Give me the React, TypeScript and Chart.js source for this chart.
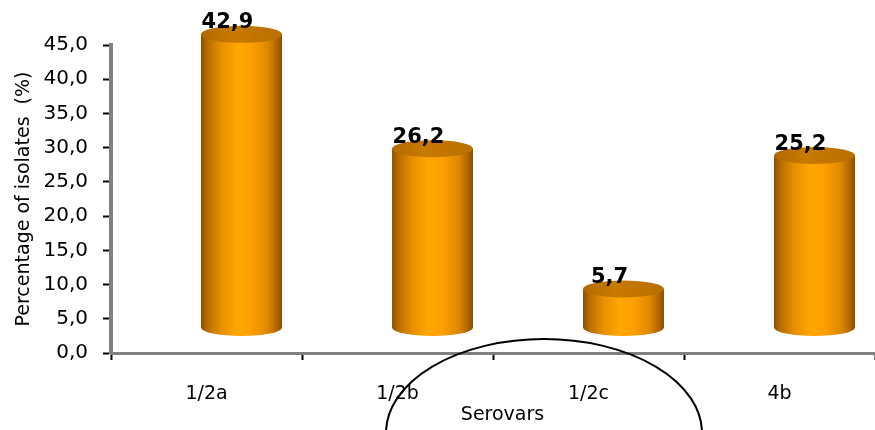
import React, { useEffect, useRef } from 'react';
import { Chart, registerables } from 'chart.js';

Chart.register(...registerables);

const categories: string[] = ['1/2a', '1/2b', '1/2c', '4b'];
const percentages: number[] = [42.9, 26.2, 5.7, 25.2];
const yMin = 0;
const yMax = 45;
const yStep = 5;
const xTitle = '\u2003Serovars';
const yTitle = 'Percentage of isolates  (%)';

const FONT = '"DejaVu Sans", sans-serif';
const DX = 35;
const DY = -25;
const RY = 8.5;

const fmt = (v: number) => v.toFixed(1).replace('.', ',');

const cylinderPlugin = {
  id: 'cylinders',
  afterDatasetsDraw(chart: any) {
    const ctx: CanvasRenderingContext2D = chart.ctx;
    const meta = chart.getDatasetMeta(0);
    meta.data.forEach((bar: any, i: number) => {
      const { x, y, base, width } = bar.getProps(['x', 'y', 'base', 'width'], true);
      const cx = x + DX;
      const top = y + DY;
      const bot = base + DY;
      const rx = width / 2;
      const left = cx - rx;
      ctx.save();
      const g = ctx.createLinearGradient(left, 0, left + width, 0);
      g.addColorStop(0, '#8a5000');
      g.addColorStop(0.08, '#b86d00');
      g.addColorStop(0.25, '#e89000');
      g.addColorStop(0.45, '#ffa600');
      g.addColorStop(0.62, '#ffa000');
      g.addColorStop(0.82, '#e08800');
      g.addColorStop(0.93, '#b26800');
      g.addColorStop(1, '#8a5000');
      ctx.beginPath();
      ctx.moveTo(left, top);
      ctx.lineTo(left, bot);
      ctx.ellipse(cx, bot, rx, RY, 0, Math.PI, 0, true);
      ctx.lineTo(left + width, top);
      ctx.closePath();
      ctx.fillStyle = g;
      ctx.fill();
      const tg = ctx.createLinearGradient(left, 0, left + width, 0);
      tg.addColorStop(0, '#b26a00');
      tg.addColorStop(0.4, '#c87a00');
      tg.addColorStop(1, '#b86f00');
      ctx.beginPath();
      ctx.ellipse(cx, top, rx, RY, 0, 0, Math.PI * 2);
      ctx.fillStyle = tg;
      ctx.fill();
      ctx.font = `bold 21px ${FONT}`;
      ctx.fillStyle = '#000';
      ctx.textAlign = 'center';
      ctx.textBaseline = 'alphabetic';
      ctx.fillText(fmt(percentages[i]), cx - 14, top - 6);
      ctx.restore();
    });
  },
  afterDraw(chart: any) {
    const ctx: CanvasRenderingContext2D = chart.ctx;
    ctx.save();
    ctx.beginPath();
    ctx.ellipse(544, 433, 158, 94, 0, 0, Math.PI * 2);
    ctx.strokeStyle = '#000';
    ctx.lineWidth = 2;
    ctx.stroke();
    ctx.restore();
  },
};

export default function App() {
  const ref = useRef<HTMLCanvasElement | null>(null);
  useEffect(() => {
    if (!ref.current) return;
    const chart = new Chart(ref.current, {
      type: 'bar',
      data: {
        labels: categories,
        datasets: [
          {
            data: percentages,
            backgroundColor: 'rgba(0,0,0,0)',
            borderWidth: 0,
            barPercentage: 0.424,
            categoryPercentage: 1,
          },
        ],
      },
      options: {
        responsive: false,
        animation: false,
        layout: { padding: { top: 45, left: 0, right: 0, bottom: 0 } },
        plugins: {
          legend: { display: false },
          tooltip: { enabled: false },
        },
        scales: {
          x: {
            grid: {
              offset: true,
              drawOnChartArea: false,
              drawTicks: true,
              tickLength: 7,
              tickColor: '#000',
              tickWidth: 2,
            },
            border: { color: '#808080', width: 3 },
            ticks: {
              color: '#000',
              font: { family: FONT, size: 19 },
              padding: 23,
            },
            title: {
              display: true,
              text: xTitle,
              color: '#000',
              font: { family: FONT, size: 19 },
              padding: { top: 0, bottom: 4 },
            },
            afterFit: (s: any) => {
              s.height = 77;
            },
          },
          y: {
            min: yMin,
            max: yMax,
            ticks: {
              stepSize: yStep,
              color: '#000',
              font: { family: FONT, size: 20 },
              padding: 15,
              callback: (v: any) => fmt(Number(v)),
            },
            grid: {
              drawOnChartArea: false,
              drawTicks: true,
              tickLength: 8,
              tickColor: '#000',
              tickWidth: 2,
            },
            border: { color: '#808080', width: 4 },
            title: {
              display: true,
              text: yTitle,
              color: '#000',
              font: { family: FONT, size: 19 },
              padding: { top: 13, bottom: 0 },
            },
            afterFit: (s: any) => {
              s.width = 111;
            },
          },
        },
      },
      plugins: [cylinderPlugin],
    });
    return () => chart.destroy();
  }, []);
  return (
    <div style={{ position: 'fixed', left: 0, top: 0, width: 875, height: 430, background: '#fff' }}>
      <canvas ref={ref} width={875} height={430} style={{ display: 'block' }} />
    </div>
  );
}
